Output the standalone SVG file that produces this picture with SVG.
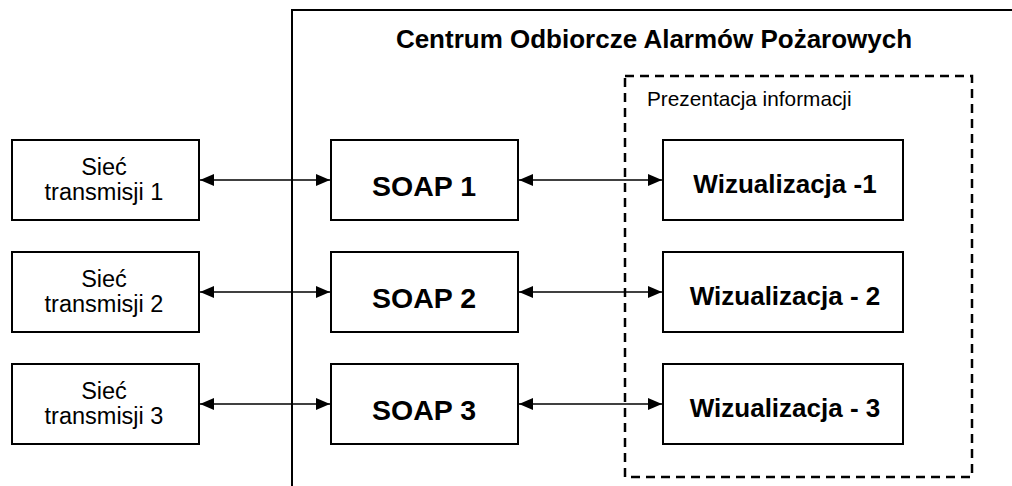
<svg xmlns="http://www.w3.org/2000/svg" width="1012" height="486" viewBox="0 0 1012 486">
<style>
.box{fill:#fff;stroke:#000;stroke-width:2}
.t{font-family:"Liberation Sans",Arial,sans-serif;fill:#000;text-anchor:middle}
.r{font-size:23.5px}
.b{font-weight:bold}
.c{stroke:#000;stroke-width:1.5;fill:none;marker-start:url(#ah);marker-end:url(#ah)}
</style>
<defs>
<marker id="ah" viewBox="0 0 14 12" refX="14" refY="6" markerWidth="14" markerHeight="12" markerUnits="userSpaceOnUse" orient="auto-start-reverse">
<path d="M0,0 L14,6 L0,12 Z" fill="#000"/>
</marker>
</defs>
<g id="centrum">
<path d="M292,486 L292,10 L1012,10" fill="none" stroke="#000" stroke-width="2"/>
<text class="t b" x="654" y="48" font-size="26">Centrum Odbiorcze Alarmów Pożarowych</text>
</g>
<g id="prezentacja">
<rect x="625" y="76" width="347" height="401" fill="none" stroke="#000" stroke-width="2.5" stroke-dasharray="9,6"/>
<text x="647" y="106" font-size="20.8" font-family="Liberation Sans, Arial, sans-serif" fill="#000">Prezentacja informacji</text>
</g>
<g id="siec1"><rect class="box" x="12" y="140" width="187" height="80"/><text class="t r" x="104" y="175">Sieć</text><text class="t r" x="104" y="200">transmisji 1</text></g>
<g id="siec2"><rect class="box" x="12" y="252" width="187" height="80"/><text class="t r" x="104" y="287">Sieć</text><text class="t r" x="104" y="312">transmisji 2</text></g>
<g id="siec3"><rect class="box" x="12" y="364" width="187" height="80"/><text class="t r" x="104" y="399">Sieć</text><text class="t r" x="104" y="424">transmisji 3</text></g>
<g id="soap1"><rect class="box" x="331" y="140" width="187" height="80"/><text class="t b" x="424" y="196" font-size="28.5">SOAP 1</text></g>
<g id="soap2"><rect class="box" x="331" y="252" width="187" height="80"/><text class="t b" x="424" y="308" font-size="28.5">SOAP 2</text></g>
<g id="soap3"><rect class="box" x="331" y="364" width="187" height="80"/><text class="t b" x="424" y="420" font-size="28.5">SOAP 3</text></g>
<g id="wiz1"><rect class="box" x="663" y="140" width="240" height="80"/><text class="t b" x="785" y="193" font-size="26">Wizualizacja -1</text></g>
<g id="wiz2"><rect class="box" x="663" y="252" width="240" height="80"/><text class="t b" x="785" y="305" font-size="26">Wizualizacja - 2</text></g>
<g id="wiz3"><rect class="box" x="663" y="364" width="240" height="80"/><text class="t b" x="785" y="417" font-size="26">Wizualizacja - 3</text></g>
<g id="connectors">
<line class="c" x1="200" y1="180" x2="330" y2="180"/>
<line class="c" x1="519" y1="180" x2="662" y2="180"/>
<line class="c" x1="200" y1="292" x2="330" y2="292"/>
<line class="c" x1="519" y1="292" x2="662" y2="292"/>
<line class="c" x1="200" y1="404" x2="330" y2="404"/>
<line class="c" x1="519" y1="404" x2="662" y2="404"/>
</g>
</svg>
